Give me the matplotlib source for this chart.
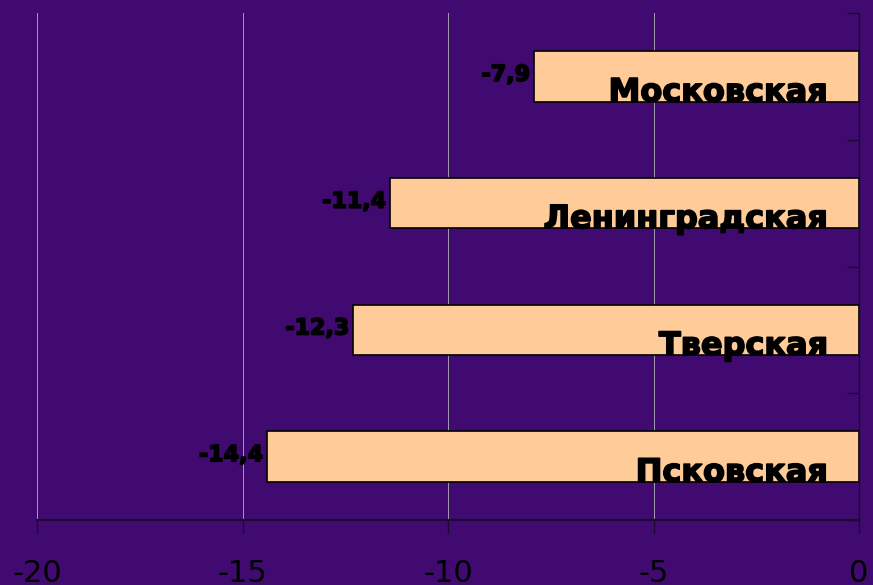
import matplotlib
matplotlib.use('Agg')
import matplotlib.pyplot as plt
import matplotlib.patheffects as pe

# data
regions = ['Московская', 'Ленинградская', 'Тверская', 'Псковская']
values = [-7.9, -11.4, -12.3, -14.4]
value_labels = ['-7,9', '-11,4', '-12,3', '-14,4']
x_ticks = [-20, -15, -10, -5, 0]
x_tick_labels = ['-20', '-15', '-10', '-5', '0']

BG = '#400a70'
BAR_COLOR = '#ffcc99'

fig = plt.figure(figsize=(8.73, 5.85), dpi=100)
fig.patch.set_facecolor(BG)
ax = fig.add_axes([37/873, 65/585, 822/873, 507/585])
ax.set_facecolor(BG)

ypos = list(range(len(regions)))
ax.barh(ypos, values, height=0.4, color=BAR_COLOR, edgecolor='black', linewidth=1.2, zorder=3)

heavy = [pe.withStroke(linewidth=1.2, foreground='black')]
for y, v, lab, name in zip(ypos, values, value_labels, regions):
    ax.annotate(lab, xy=(v, y), xytext=(-3, 1), textcoords='offset points',
                ha='right', va='center', fontsize=16, fontweight='bold', color='black',
                zorder=4, path_effects=heavy)
    ax.text(-0.75, y + 0.13, name, ha='right', va='center', fontsize=23,
            fontweight='bold', color='black', zorder=4, path_effects=heavy)

ax.set_xlim(-20, 0)
ax.set_ylim(3.5, -0.5)
ax.set_xticks(x_ticks)
ax.set_xticklabels(x_tick_labels, fontsize=22, color='black')
ax.tick_params(axis='x', direction='out', length=9, width=1, color='#1a0a30', pad=19)

ax.yaxis.tick_right()
ax.set_yticks([-0.5, 0.5, 1.5, 2.5, 3.5])
ax.set_yticklabels([])
ax.tick_params(axis='y', direction='in', length=9, width=1, color='#1a0a30')

ax.xaxis.grid(True, color='#a49cae', linewidth=0.7, zorder=0)
ax.set_axisbelow(True)

ax.spines['top'].set_visible(False)
ax.spines['left'].set_visible(False)
ax.spines['bottom'].set_color('#1a0a30')
ax.spines['bottom'].set_linewidth(1.5)
ax.spines['right'].set_color('#1a0a30')
ax.spines['right'].set_linewidth(1.0)

fig.savefig('out.png', dpi=100, facecolor=BG)
